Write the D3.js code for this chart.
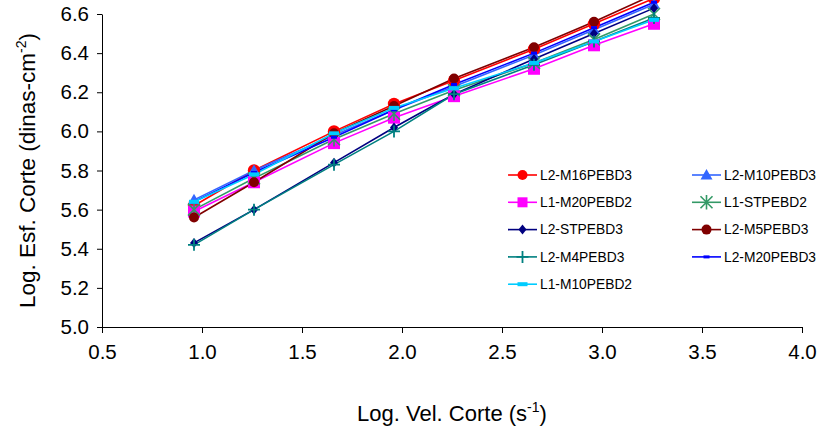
<!DOCTYPE html>
<html>
<head>
<meta charset="utf-8">
<script src="https://cdn.jsdelivr.net/npm/d3@7"></script>
<style>
  body { margin: 0; background: #fff; }
  svg { display: block; }
  text { font-family: "Liberation Sans", Arial, sans-serif; fill: #000; }
</style>
</head>
<body>
<svg id="chart" width="822" height="443"></svg>
<script>
// Log10 of shear rate (s^-1)
const logShearRate = [0.96, 1.26, 1.66, 1.96, 2.26, 2.66, 2.96, 3.26];

// Log10 of shear stress (dinas-cm^-2) for each blend
const seriesNames = [
  "L2-M16PEBD3", "L2-M10PEBD3", "L1-M20PEBD2", "L1-STPEBD2", "L2-STPEBD3",
  "L2-M5PEBD3", "L2-M4PEBD3", "L2-M20PEBD3", "L1-M10PEBD2"
];
const l2M16 = [5.62, 5.80, 6.00, 6.14, 6.26, 6.42, 6.55, 6.68];
const l2M10 = [5.65, 5.80, 5.98, 6.11, 6.23, 6.39, 6.52, 6.65];
const l1M20 = [5.59, 5.74, 5.94, 6.07, 6.18, 6.32, 6.44, 6.55];
const l1ST  = [5.60, 5.76, 5.96, 6.09, 6.21, 6.35, 6.47, 6.60];
const l2ST  = [5.43, 5.60, 5.84, 6.02, 6.19, 6.37, 6.50, 6.63];
const l2M5  = [5.56, 5.74, 5.99, 6.13, 6.27, 6.43, 6.56, 6.70];
const l2M4  = [5.42, 5.60, 5.83, 6.00, 6.19, 6.34, 6.46, 6.58];
const l2M20 = [5.64, 5.79, 5.97, 6.11, 6.24, 6.40, 6.53, 6.66];
const l1M10 = [5.64, 5.78, 5.99, 6.12, 6.22, 6.35, 6.46, 6.57];

const xTicks = [0.5, 1.0, 1.5, 2.0, 2.5, 3.0, 3.5, 4.0];
const yTicks = [5.0, 5.2, 5.4, 5.6, 5.8, 6.0, 6.2, 6.4, 6.6];

const seriesValues = [l2M16, l2M10, l1M20, l1ST, l2ST, l2M5, l2M4, l2M20, l1M10];

// Line colour and marker shape per series
const styles = [
  { color: "#ff0000", marker: "circle",   size: 6.2 },
  { color: "#3366ff", marker: "triangle", size: 6 },
  { color: "#ff00ff", marker: "square",   size: 12 },
  { color: "#339966", marker: "star",     size: 6 },
  { color: "#000080", marker: "diamond",  size: 5 },
  { color: "#800000", marker: "circle",   size: 5 },
  { color: "#008080", marker: "plus",     size: 6 },
  { color: "#0000ff", marker: "dash",     size: 3 },
  { color: "#00ccff", marker: "bar",      size: 5 }
];

const series = seriesNames.map((name, i) => ({
  name,
  style: styles[i],
  points: logShearRate.map((x, j) => ({ x, y: seriesValues[i][j] }))
}));

const svg = d3.select("#chart");

const x = d3.scaleLinear().domain([0.5, 4.0]).range([102, 802]);
const y = d3.scaleLinear().domain([5.0, 6.6]).range([327, 14]);

// Axes
const xAxis = svg.append("g")
  .attr("transform", `translate(0,${y(5.0)})`)
  .call(d3.axisBottom(x).tickValues(xTicks).tickFormat(d3.format(".1f"))
    .tickSizeInner(6).tickSizeOuter(0).tickPadding(11));
const yAxis = svg.append("g")
  .attr("transform", `translate(${x(0.5)},0)`)
  .call(d3.axisLeft(y).tickValues(yTicks).tickFormat(d3.format(".1f"))
    .tickSizeInner(5).tickSizeOuter(0).tickPadding(8));

[xAxis, yAxis].forEach(g => {
  g.selectAll(".domain").attr("stroke", "#000").attr("stroke-width", 1);
  g.selectAll(".tick line").attr("stroke", "#000");
  g.selectAll(".tick text").attr("font-size", 20.5)
    .attr("font-family", '"Liberation Sans", Arial, sans-serif').attr("fill", "#000");
});

// Axis titles
const xTitle = svg.append("text")
  .attr("x", (x(0.5) + x(4.0)) / 2).attr("y", 421)
  .attr("text-anchor", "middle").attr("font-size", 22);
xTitle.append("tspan").text("Log. Vel. Corte (s");
xTitle.append("tspan").attr("font-size", 14).attr("dy", -9).text("-1");
xTitle.append("tspan").attr("dy", 9).text(")");

const yTitle = svg.append("text")
  .attr("transform", `translate(35,${(y(5.0) + y(6.6)) / 2}) rotate(-90)`)
  .attr("text-anchor", "middle").attr("font-size", 22.5);
yTitle.append("tspan").text("Log. Esf. Corte (dinas-cm");
yTitle.append("tspan").attr("font-size", 14).attr("dy", -9).text("-2");
yTitle.append("tspan").attr("dy", 9).text(")");

// Marker drawing
function drawMarker(g, st) {
  const c = st.color, s = st.size;
  switch (st.marker) {
    case "circle":
      g.append("circle").attr("r", s).attr("fill", c);
      break;
    case "square":
      g.append("rect").attr("x", -s / 2).attr("y", -s / 2)
        .attr("width", s).attr("height", s).attr("fill", c);
      break;
    case "triangle":
      g.append("path").attr("d", `M0,${-s}L${s},${s * 0.75}L${-s},${s * 0.75}Z`).attr("fill", c);
      break;
    case "diamond":
      g.append("path").attr("d", `M0,${-s}L${s * 0.8},0L0,${s}L${-s * 0.8},0Z`).attr("fill", c);
      break;
    case "star":
      g.append("path")
        .attr("d", `M${-s},${-s}L${s},${s}M${-s},${s}L${s},${-s}M0,${-s * 1.2}L0,${s * 1.2}`)
        .attr("stroke", c).attr("stroke-width", 1.6).attr("fill", "none");
      break;
    case "plus":
      g.append("path")
        .attr("d", `M${-s},0L${s},0M0,${-s}L0,${s}`)
        .attr("stroke", c).attr("stroke-width", 1.8).attr("fill", "none");
      break;
    case "dash":
      g.append("rect").attr("x", -s).attr("y", -1.5)
        .attr("width", 2 * s).attr("height", 3).attr("fill", c);
      break;
    case "bar":
      g.append("rect").attr("x", -s).attr("y", -2)
        .attr("width", 2 * s).attr("height", 4).attr("fill", c);
      break;
  }
}

const line = d3.line().x(d => x(d.x)).y(d => y(d.y));

// Lines first, then markers on top in series order
svg.append("g").selectAll("path").data(series).join("path")
  .attr("d", d => line(d.points))
  .attr("fill", "none")
  .attr("stroke", d => d.style.color)
  .attr("stroke-width", 1.6);

series.forEach(s => {
  s.points.forEach(p => {
    const g = svg.append("g").attr("transform", `translate(${x(p.x)},${y(p.y)})`);
    drawMarker(g, s.style);
  });
});

// Legend: two columns, filled row by row
const legendCols = [508, 692];
const legendRow0 = 175, legendRowStep = 27.3;
series.forEach((s, i) => {
  const col = i % 2, row = Math.floor(i / 2);
  const lx = legendCols[col], ly = legendRow0 + row * legendRowStep;
  const g = svg.append("g").attr("transform", `translate(${lx},${ly})`);
  g.append("line").attr("x1", 0).attr("x2", 29).attr("y1", 0).attr("y2", 0)
    .attr("stroke", s.style.color).attr("stroke-width", 1.6);
  const m = g.append("g").attr("transform", "translate(14.5,0)");
  drawMarker(m, Object.assign({}, s.style,
    { size: s.style.marker === "square" ? 10 : (s.style.marker === "circle" ? 5 : s.style.size) }));
  g.append("text").attr("x", 32).attr("y", 0).attr("dy", "0.35em")
    .attr("font-size", 13.8).text(s.name);
});
</script>
</body>
</html>
